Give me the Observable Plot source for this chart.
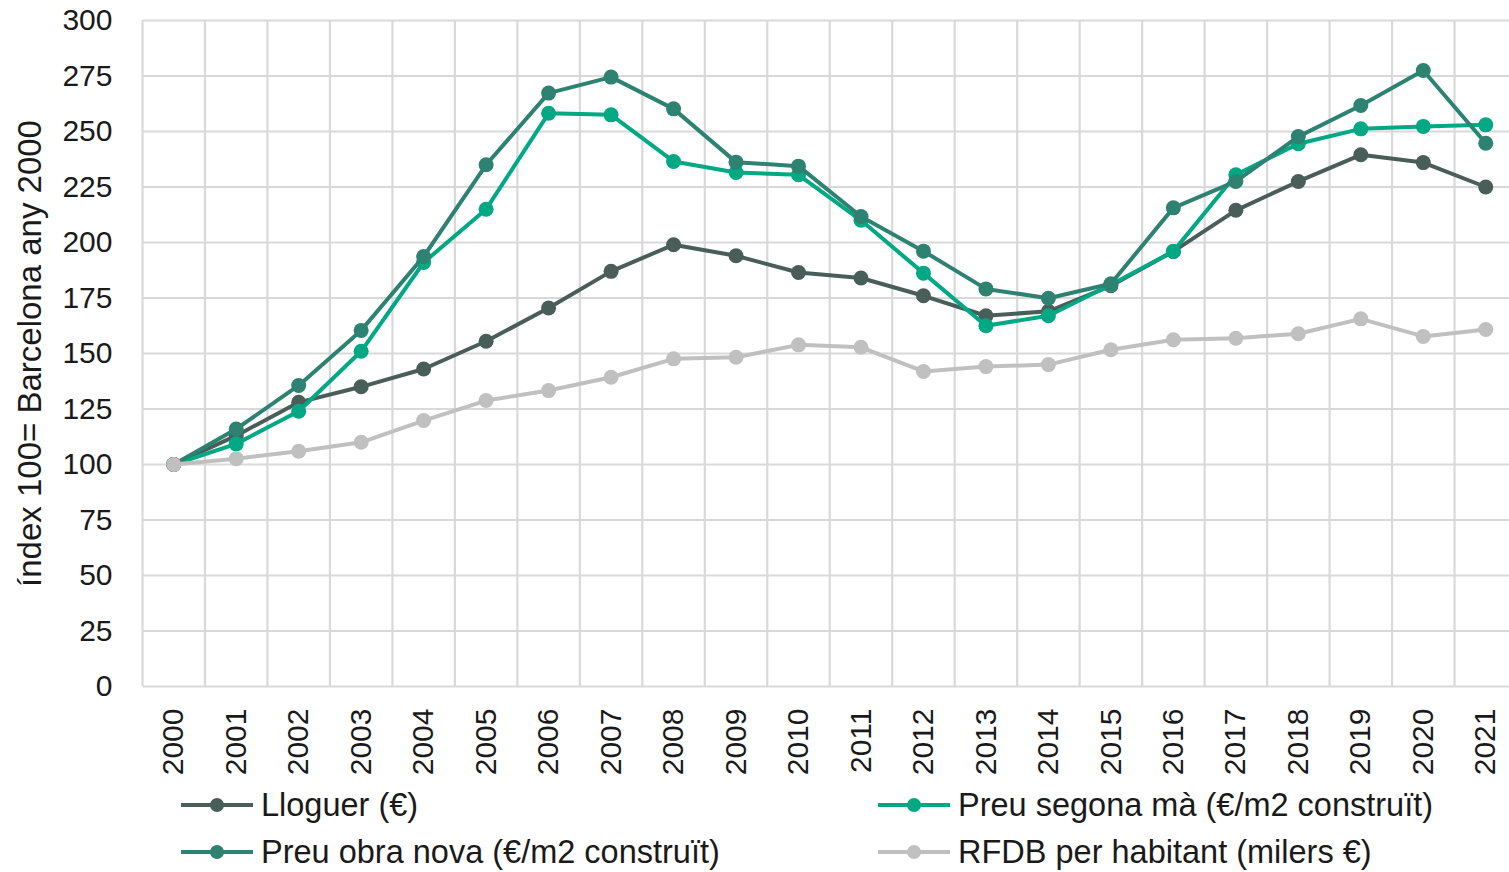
<!DOCTYPE html>
<html>
<head>
<meta charset="utf-8">
<script src="https://cdn.jsdelivr.net/npm/d3@7"></script>
<script src="https://cdn.jsdelivr.net/npm/@observablehq/plot@0.6"></script>
<style>
  html, body { margin: 0; padding: 0; background: #fff; }
  body { width: 1509px; height: 872px; overflow: hidden; font-family: "Liberation Sans", Arial, sans-serif; }
  #legend { position: relative; width: 1509px; height: 92px; }
  .item { position: absolute; display: flex; align-items: center; height: 40px; font-size: 32.5px; color: #1a1a1a; white-space: nowrap; }
  .item svg { display: block; }
  .item span { margin-left: 8px; }
</style>
</head>
<body>
<div id="chart"></div>
<div id="legend"></div>
<script>
const years = [2000,2001,2002,2003,2004,2005,2006,2007,2008,2009,2010,2011,2012,2013,2014,2015,2016,2017,2018,2019,2020,2021];
const lloguer   = [100,113,128,135,143,155.5,170.5,187,199,194,186.5,184,176,167,169,180.5,196,214.5,227.5,239.5,236,225];
const segonaMa  = [100,109.3,124,151,191,215,258.2,257.5,236.5,231.5,230.5,210,186.2,162.5,167,181,196,230.5,244.5,251.2,252.3,253];
const obraNova  = [100,116,135.6,160.4,193.7,235,267.3,274.5,260.2,236.2,234.4,211.7,196.1,179.1,174.9,181.4,215.6,227.5,247.7,261.7,277.5,244.7];
const rfdb      = [100,102.6,106,110,119.8,128.8,133.3,139.3,147.6,148.3,153.9,152.8,141.9,144.1,145,151.7,156.2,156.9,158.9,165.6,157.7,160.8];
const seriesNames = ["Lloguer (€)", "Preu segona mà (€/m2 construït)", "Preu obra nova (€/m2 construït)", "RFDB per habitant (milers €)"];
const seriesColors = ["#4a5e59", "#00a884", "#2e8271", "#c0c0c0"];
const yTicks = [0,25,50,75,100,125,150,175,200,225,250,275,300];
const yTitle = "índex 100= Barcelona any 2000";

const seriesValues = [lloguer, segonaMa, obraNova, rfdb];
const tables = seriesValues.map((vals, s) => years.map((yr, i) => ({year: yr, value: vals[i], series: seriesNames[s]})));
const gridX = d3.range(years.length + 1).map(i => years[0] - 0.5 + i);

const marks = [
  Plot.ruleY(yTicks, {stroke: "#d9d9d9", strokeWidth: 2.2}),
  Plot.ruleX(gridX, {stroke: "#d9d9d9", strokeWidth: 2.2})
];
tables.forEach((t, s) => {
  marks.push(Plot.line(t, {x: "year", y: "value", stroke: seriesColors[s], strokeWidth: 4}));
  marks.push(Plot.dot(t, {x: "year", y: "value", fill: seriesColors[s], r: 7.5}));
});
marks.push(Plot.axisY(yTicks, {tickSize: 0, tickPadding: 31, fontSize: 30, label: null, color: "#1a1a1a"}));
marks.push(Plot.axisX(years, {tickSize: 0, tickPadding: 22, tickRotate: -90, fontSize: 30, label: null, tickFormat: d => String(d), color: "#1a1a1a"}));
marks.push(Plot.text([yTitle], {text: d => d, frameAnchor: "left", rotate: -90, dx: -113, fontSize: 33, fill: "#1a1a1a", textAnchor: "middle", lineAnchor: "middle"}));

const chart = Plot.plot({
  width: 1509,
  height: 780,
  marginLeft: 143,
  marginRight: 0,
  marginTop: 20,
  marginBottom: 94,
  style: {fontFamily: "'Liberation Sans', Arial, sans-serif", fontSize: "30px", color: "#1a1a1a", background: "#fff", overflow: "hidden"},
  x: {type: "linear", domain: [years[0] - 0.5, years[years.length - 1] + 0.5], range: [142, 1516.5]},
  y: {domain: [0, 300], range: [686, 20]},
  marks
});
document.getElementById("chart").appendChild(chart);

// legend (two columns, row-major order like the source)
const legendPos = [
  {left: 181, top: 5},
  {left: 878, top: 5},
  {left: 181, top: 52},
  {left: 878, top: 52}
];
const legend = document.getElementById("legend");
seriesNames.forEach((name, i) => {
  const div = document.createElement("div");
  div.className = "item";
  div.style.left = legendPos[i].left + "px";
  div.style.top = legendPos[i].top + "px";
  div.innerHTML = `<svg width="72" height="20"><line x1="0" y1="10" x2="72" y2="10" stroke="${seriesColors[i]}" stroke-width="4"/><circle cx="36" cy="10" r="7" fill="${seriesColors[i]}"/></svg><span>${name}</span>`;
  legend.appendChild(div);
});
</script>
</body>
</html>
